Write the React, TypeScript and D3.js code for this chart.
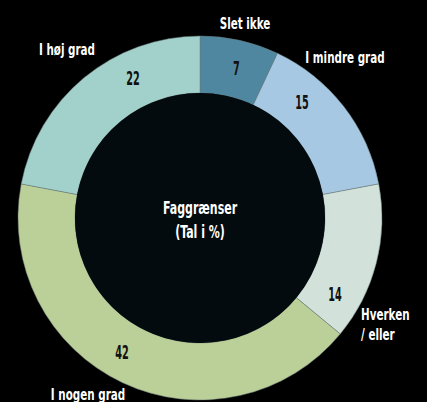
import { useEffect, useRef } from 'react'
import * as d3 from 'd3'

// Faggrænser – svarfordeling i procent
const categories = ['Slet ikke', 'I mindre grad', 'Hverken / eller', 'I nogen grad', 'I høj grad']
const values = [7, 15, 14, 42, 22]
const colors = ['#4f87a0', '#a6c8e3', '#d2e2da', '#bbd098', '#a2d1cb']
// små vinkeljusteringer (grader) af talplaceringen i hver skive
const valueShift = [1, -11, 15, 5, 14]

const W = 427
const H = 402
const FONT = "'DejaVu Sans Condensed', 'DejaVu Sans', sans-serif"

export default function App() {
  const svgRef = useRef<SVGSVGElement>(null)

  useEffect(() => {
    const svg = d3.select(svgRef.current)
    svg.selectAll('*').remove()

    const cx = 200
    const cy = 218
    const outerR = 182
    const innerR = 125

    svg.append('rect').attr('width', W).attr('height', H).attr('fill', '#000')

    const g = svg.append('g').attr('transform', `translate(${cx},${cy})`)

    const pie = d3.pie<number>().sort(null).value(d => d)
    const arcs = pie(values)
    const arc = d3.arc<d3.PieArcDatum<number>>().innerRadius(innerR).outerRadius(outerR)

    g.selectAll('path.slice')
      .data(arcs)
      .enter()
      .append('path')
      .attr('class', 'slice')
      .attr('d', arc)
      .attr('fill', (_, i) => colors[i])
      .attr('stroke', '#6a7a7a')
      .attr('stroke-width', 0.5)

    g.append('circle').attr('r', innerR).attr('fill', '#040b0f')

    // hjælper: smal tekst via vandret skalering
    const label = (x: number, y: number, lines: string[], anchor: string, size: number, fill: string, squeeze: number) => {
      const t = g.append('g')
        .attr('transform', `translate(${x},${y}) scale(${squeeze},1)`)
        .append('text')
        .attr('text-anchor', anchor)
        .attr('font-family', FONT)
        .attr('font-weight', 'bold')
        .attr('font-size', size)
        .attr('fill', fill)
      lines.forEach((l, j) => {
        t.append('tspan').attr('x', 0).attr('dy', j === 0 ? '0.36em' : '1.25em').text(l)
      })
    }

    // tal i skiverne
    const valueR = 155
    arcs.forEach((d, i) => {
      const a = (d.startAngle + d.endAngle) / 2 + (valueShift[i] * Math.PI) / 180
      label(valueR * Math.sin(a), -valueR * Math.cos(a), [String(d.data)], 'middle', 20, '#111', 0.54)
    })

    // kategorietiketter uden for ringen
    const labelPos: { x: number; y: number; anchor: string }[] = [
      { x: 45, y: -195, anchor: 'middle' },
      { x: 145, y: -161, anchor: 'middle' },
      { x: 161, y: 96, anchor: 'start' },
      { x: -112, y: 176, anchor: 'middle' },
      { x: -133, y: -169, anchor: 'middle' }
    ]
    categories.forEach((c, i) => {
      const p = labelPos[i]
      const lines = c === 'Hverken / eller' ? ['Hverken', '/ eller'] : [c]
      label(p.x, p.y, lines, p.anchor, 16, '#fff', 0.72)
    })

    // titel i midten
    label(0, -10, ['Faggrænser'], 'middle', 17, '#fff', 0.72)
    label(0, 14, ['(Tal i %)'], 'middle', 17, '#fff', 0.72)
  }, [])

  return (
    <div style={{ position: 'fixed', left: 0, top: 0, width: W, height: H, background: '#000' }}>
      <svg ref={svgRef} width={W} height={H} style={{ display: 'block' }} />
    </div>
  )
}
